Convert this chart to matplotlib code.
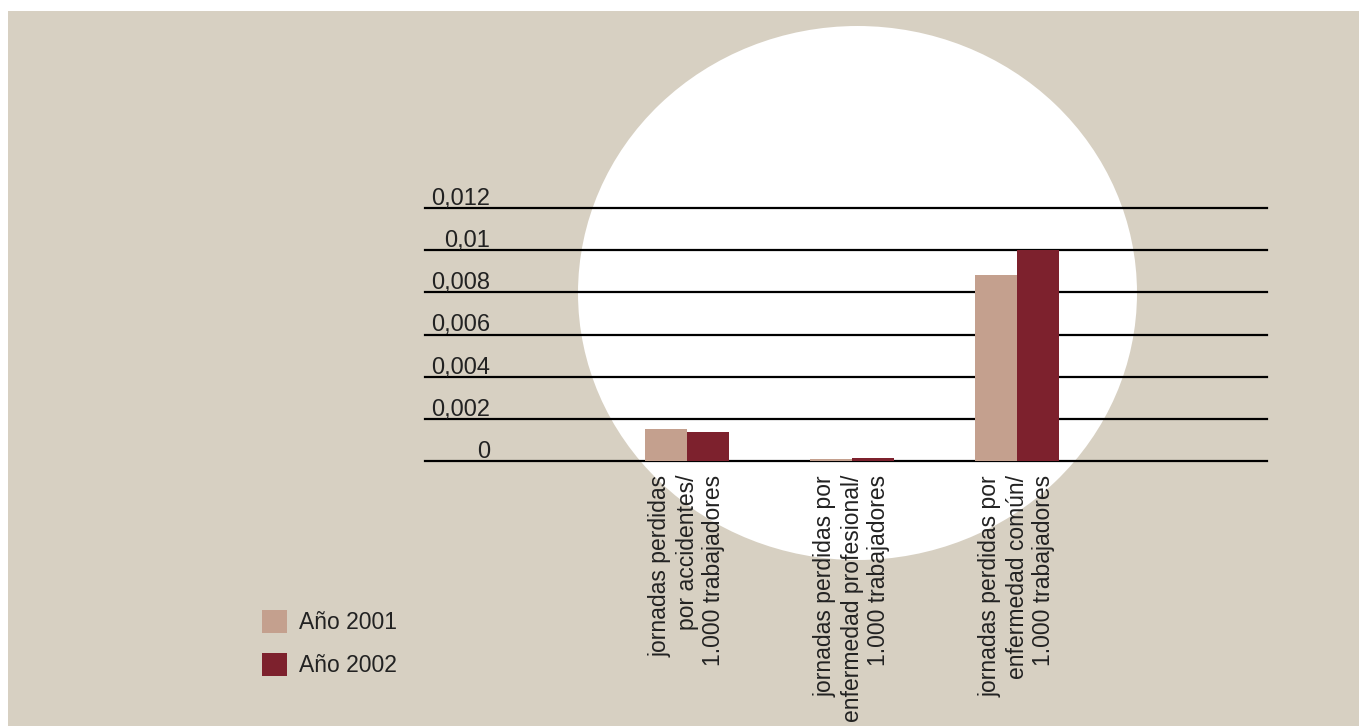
import matplotlib
matplotlib.use("Agg")
import matplotlib.pyplot as plt
from matplotlib.patches import Ellipse, Rectangle
import matplotlib.transforms as mtransforms
import numpy as np

categories = [
    "jornadas perdidas\npor accidentes/\n1.000 trabajadores",
    "jornadas perdidas por\nenfermedad profesional/\n1.000 trabajadores",
    "jornadas perdidas por\nenfermedad común/\n1.000 trabajadores",
]
series_names = ["Año 2001", "Año 2002"]
values_2001 = [0.00152, 0.00008, 0.0088]
values_2002 = [0.00138, 0.00013, 0.01003]
yticks = [0, 0.002, 0.004, 0.006, 0.008, 0.01, 0.012]
ytick_labels = ["0", "0,002", "0,004", "0,006", "0,008", "0,01", "0,012"]

W, H = 1359, 726
BG = "#D7D0C2"
C2001 = "#C4A08E"
C2002 = "#7D212D"
FONT = "Liberation Sans"
FS = 16.5
TXT = "#222222"

plt.rcParams["font.family"] = [FONT, "DejaVu Sans"]
fig = plt.figure(figsize=(W / 100, H / 100), dpi=100, facecolor="white")

# beige panel
fig.patches.append(Rectangle((8 / W, 0), 1 - 8 / W, 1 - 11 / H, transform=fig.transFigure,
                             facecolor=BG, edgecolor="none", zorder=-3))
# white ellipse
fig.patches.append(Ellipse((857.5 / W, 1 - 293 / H), 559 / W, 534 / H, transform=fig.transFigure,
                           facecolor="white", edgecolor="none", zorder=-2))

ax = fig.add_axes([425 / W, (H - 461) / H, 842 / W, 253 / H])
ax.set_facecolor("none")
for s in ax.spines.values():
    s.set_visible(False)

x = np.arange(len(categories))
bw = 0.255
b1 = ax.bar(x - bw / 2, values_2001, bw, color=C2001, label=series_names[0], zorder=3)
b2 = ax.bar(x + bw / 2, values_2002, bw, color=C2002, label=series_names[1], zorder=3)

ax.set_xlim(-1.588, 3.515)
ax.set_ylim(0, 0.012)
for t in yticks:
    ax.axhline(t, color="black", lw=1.6, zorder=2, clip_on=False)

ax.set_xticks([])
ax.set_yticks([])

blend = mtransforms.blended_transform_factory(ax.transAxes, ax.transData)
off = mtransforms.offset_copy(blend, fig=fig, x=0, y=3, units="dots")
for t, lab in zip(yticks, ytick_labels):
    ax.text(65 / 842, t, lab, transform=off, ha="right", va="baseline",
            fontsize=17, color=TXT)

# category labels (rotated)
lab_off = mtransforms.offset_copy(ax.transData, fig=fig, x=0, y=-14, units="dots")
for xi, cat in zip(x, categories):
    ax.text(xi, 0, cat, transform=lab_off, rotation=90, ha="center", va="top",
            multialignment="right", fontsize=FS, color=TXT, linespacing=1.2)

leg = fig.legend(handles=[b1, b2], labels=series_names, loc="upper left",
                 bbox_to_anchor=(262 / W, 1 - 610 / H), frameon=False,
                 fontsize=FS, handlelength=1.1, handleheight=1.2,
                 handletextpad=0.52, labelspacing=0.8, borderpad=0, borderaxespad=0)
for t in leg.get_texts():
    t.set_color(TXT)

fig.savefig("out.png", dpi=100, facecolor="white")
